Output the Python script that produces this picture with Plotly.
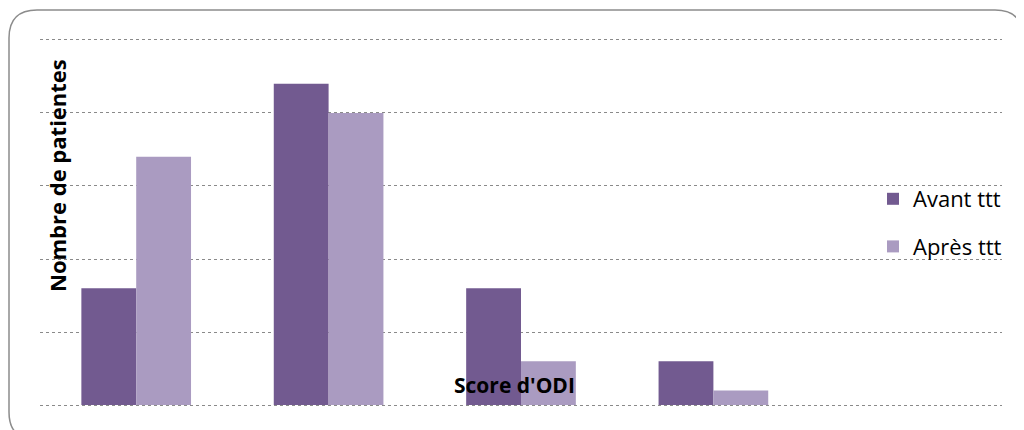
import plotly.graph_objects as go

categories = ["0-20%", "21-40%", "41-60%", "61-80%", "81-100%"]
avant = [8, 22, 8, 3, 0]
apres = [17, 20, 3, 1, 0]

W, H = 1024, 430
OFF = 8  # browser body margin shifts the figure by 8px
YMAX, PAD = 25, 0.2
unit = (405 - 40) / YMAX
L = 40 - OFF
T = round(40 - OFF - PAD * unit)
R = W - (1002 - OFF)
B = round(H - (405 - OFF + PAD * unit))
pw, ph = W - L - R, H - T - B


def px_x(p):
    # screen pixel -> paper coordinate
    return (p - OFF - L) / pw


def px_y(p):
    return 1 - (p - OFF - T) / ph


fig = go.Figure()
fig.add_trace(go.Bar(x=categories, y=avant, name="Avant ttt", legendgroup="a",
                     marker=dict(color="#725A90", line=dict(width=0))))
fig.add_trace(go.Bar(x=categories, y=apres, name="Après ttt", legendgroup="b",
                     marker=dict(color="#AA9BC1", line=dict(width=0))))

# rounded chart border (Excel style)
x0, y0, x1, y1, r = 9, 10, 1023, 440, 28
path = (f"M {px_x(x0)},{px_y(y0 + r)} "
        f"Q {px_x(x0)},{px_y(y0)} {px_x(x0 + r)},{px_y(y0)} "
        f"L {px_x(x1 - r)},{px_y(y0)} "
        f"Q {px_x(x1)},{px_y(y0)} {px_x(x1)},{px_y(y0 + r)} "
        f"L {px_x(x1)},{px_y(y1 - r)} "
        f"Q {px_x(x1)},{px_y(y1)} {px_x(x1 - r)},{px_y(y1)} "
        f"L {px_x(x0 + r)},{px_y(y1)} "
        f"Q {px_x(x0)},{px_y(y1)} {px_x(x0)},{px_y(y1 - r)} Z")

font_fam = "Open Sans, Liberation Sans, sans-serif"

fig.update_layout(
    width=W, height=H,
    margin=dict(l=L, r=R, t=T, b=B),
    paper_bgcolor="white", plot_bgcolor="white",
    barmode="group", bargap=0.43, bargroupgap=0,
    font=dict(family=font_fam, color="#000000"),
    xaxis=dict(showticklabels=False, ticks="", showgrid=False, zeroline=False,
               showline=False, range=[-0.5, 4.5]),
    yaxis=dict(showticklabels=False, ticks="", range=[-PAD, YMAX + PAD], dtick=5,
               showgrid=True, gridcolor="#8a8a8a", gridwidth=1, griddash="dot",
               zeroline=False, showline=False),
    legend=dict(x=px_x(873), y=px_y(178), xanchor="left", yanchor="top",
                bgcolor="rgba(0,0,0,0)", tracegroupgap=16,
                font=dict(size=22, family=font_fam)),
    shapes=[dict(type="path", path=path, xref="paper", yref="paper",
                 line=dict(color="#8c8c8c", width=1.5), layer="above")],
    annotations=[
        dict(text="<b>Nombre de patientes</b>", textangle=-90, x=px_x(57), y=px_y(176),
             xanchor="center", yanchor="middle",
             xref="paper", yref="paper", showarrow=False, font=dict(size=22)),
        dict(text="<b>Score d'ODI</b>", x=px_x(514), y=px_y(385),
             xanchor="center", yanchor="middle",
             xref="paper", yref="paper", showarrow=False, font=dict(size=21)),
    ],
)

fig.write_html("out.html")
